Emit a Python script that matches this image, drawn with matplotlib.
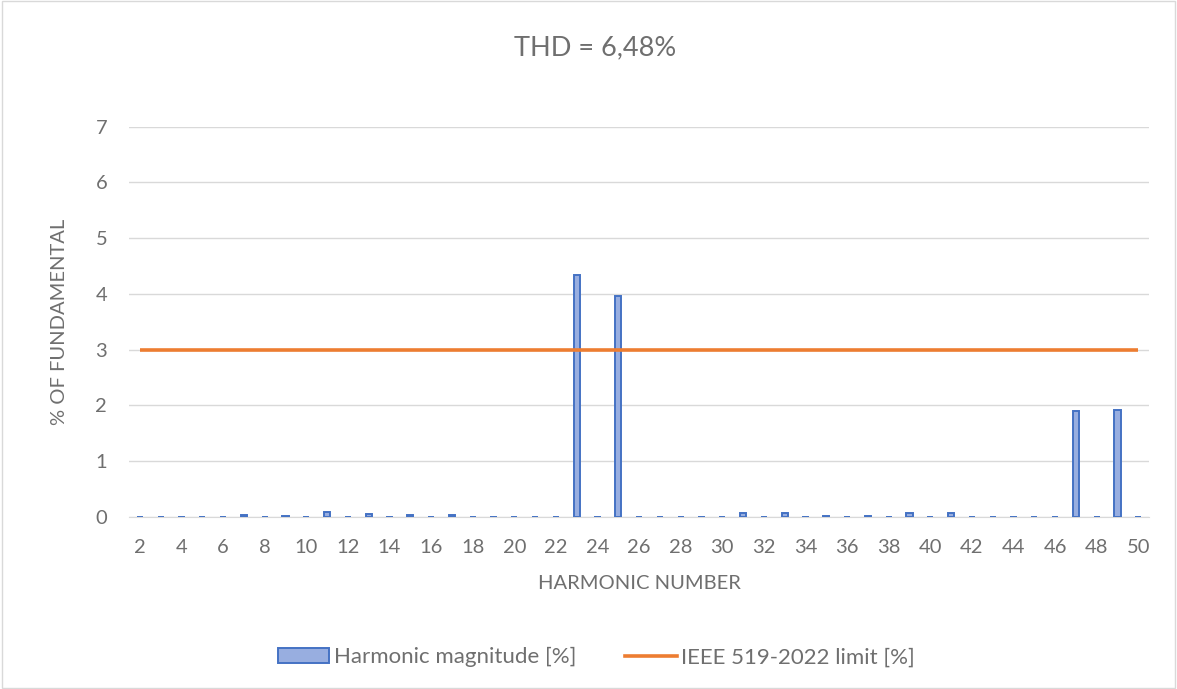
import matplotlib

matplotlib.use("Agg")
import matplotlib.pyplot as plt
from matplotlib.lines import Line2D
from matplotlib.patches import Patch

plt.rcParams["font.family"] = ["Lato", "DejaVu Sans"]

# harmonic orders 2..50 and their magnitudes in % of fundamental
harmonics = list(range(2, 51))
magnitude = [
    0.00, 0.00, 0.00, 0.00, 0.00,   # 2-6
    0.03, 0.00, 0.02, 0.00, 0.08,   # 7-11
    0.00, 0.05, 0.00, 0.04, 0.00,   # 12-16
    0.04, 0.00, 0.00, 0.00, 0.00,   # 17-21
    0.00, 4.34, 0.00, 3.97, 0.00,   # 22-26
    0.00, 0.00, 0.00, 0.00, 0.06,   # 27-31
    0.00, 0.06, 0.00, 0.02, 0.00,   # 32-36
    0.02, 0.00, 0.06, 0.00, 0.06,   # 37-41
    0.00, 0.00, 0.00, 0.00, 0.00,   # 42-46
    1.90, 0.00, 1.92, 0.00,         # 47-50
]
limit = [3.0] * len(harmonics)
xtick_labels = [str(h) for h in range(2, 51, 2)]

GRAY = "#6f6f6f"
BAR_FACE = "#98aee0"
BAR_EDGE = "#4472c4"
LINE = "#ed7d31"

fig = plt.figure(figsize=(11.77, 6.89), dpi=100)
ax = fig.add_axes([0.110, 0.250, 0.866, 0.566])

ax.bar(harmonics, magnitude, width=0.3, color=BAR_FACE, edgecolor=BAR_EDGE,
       linewidth=1.4, zorder=3)
ax.plot(harmonics, limit, color=LINE, lw=2.6, zorder=4, solid_capstyle="butt")

ax.set_xlim(1.5, 50.5)
ax.set_ylim(0, 7)
ax.set_yticks(range(0, 8))
ax.set_xticks(range(2, 51, 2))
ax.set_xticklabels(xtick_labels)
ax.tick_params(axis="x", length=0, labelsize=14.5, colors=GRAY, pad=16)
ax.tick_params(axis="y", length=0, labelsize=14.5, colors=GRAY, pad=16)
ax.grid(axis="y", color="#d9d9d9", lw=1, zorder=0)
for s in ("top", "right", "left"):
    ax.spines[s].set_visible(False)
ax.spines["bottom"].set_color("#d9d9d9")
ax.set_axisbelow(True)

ax.set_xlabel("HARMONIC NUMBER", fontsize=14.5, color=GRAY, labelpad=14)
ax.set_ylabel("% OF FUNDAMENTAL", fontsize=14.5, color=GRAY, labelpad=20)
fig.text(0.506, 0.931, "THD = 6,48%", ha="center", va="center",
         fontsize=19.5, color=GRAY)

handles = [
    Patch(facecolor=BAR_FACE, edgecolor=BAR_EDGE, linewidth=1.4),
    Line2D([0], [0], color=LINE, lw=2.6),
]
labels = ["Harmonic magnitude [%]", "IEEE 519-2022 limit [%]"]
fig.legend(handles, labels, loc="center", bbox_to_anchor=(0.507, 0.046), ncol=2,
           frameon=False, fontsize=16, labelcolor=GRAY, columnspacing=2.2,
           handlelength=2.3, handletextpad=0.22)

# light outer border like the chart area frame
fig.patches.append(plt.Rectangle((0.002, 0.002), 0.996, 0.996, transform=fig.transFigure,
                                 fill=False, edgecolor="#d9d9d9", lw=1))

fig.savefig("out.png", dpi=100)
